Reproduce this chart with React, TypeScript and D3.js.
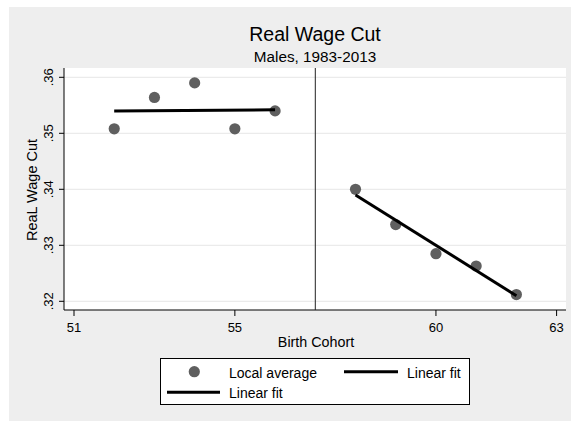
import React from 'react';
import * as d3 from 'd3';

// local averages by birth cohort
const cohortLeft = [52, 53, 54, 55, 56];
const avgLeft = [0.3508, 0.3564, 0.359, 0.3508, 0.354];
const cohortRight = [58, 59, 60, 61, 62];
const avgRight = [0.34, 0.3337, 0.3285, 0.3263, 0.3212];

// linear fit endpoints
const fitLeftX = [52, 56];
const fitLeftY = [0.354, 0.3542];
const fitRightX = [58, 62];
const fitRightY = [0.339, 0.321];

const cutoff = 57;
const xTicks = [51, 55, 60, 63];
const yTicks = [0.32, 0.33, 0.34, 0.35, 0.36];

const W = 571;
const H = 421;
const plot = { left: 64, right: 566, top: 68, bottom: 310 };
const font = 'Arial, "Liberation Sans", sans-serif';

const App: React.FC = () => {
  const x = d3.scaleLinear().domain([51, 63]).range([74, 556.6]);
  const y = d3.scaleLinear().domain([0.32, 0.36]).range([301.3, 77.3]);

  const line = d3
    .line<[number, number]>()
    .x((d) => x(d[0]))
    .y((d) => y(d[1]));

  const leftFit = fitLeftX.map((v, i) => [v, fitLeftY[i]] as [number, number]);
  const rightFit = fitRightX.map((v, i) => [v, fitRightY[i]] as [number, number]);

  const points = [
    ...cohortLeft.map((c, i) => [c, avgLeft[i]]),
    ...cohortRight.map((c, i) => [c, avgRight[i]]),
  ];

  const fmt = (v: number) => d3.format('.2f')(v).replace(/^0/, '');

  return (
    <svg
      width={W}
      height={H}
      style={{ position: 'absolute', left: 0, top: 0, fontFamily: font }}
    >
      <rect x={0} y={0} width={W} height={H} fill="#fff" />
      <rect x={9} y={7} width={W - 9} height={H - 7} fill="#eeeeee" />
      <rect
        x={plot.left}
        y={plot.top}
        width={plot.right - plot.left}
        height={plot.bottom - plot.top}
        fill="#fff"
      />

      {/* titles */}
      <text x={315} y={41} textAnchor="middle" fontSize={19.5} fill="#000">
        Real Wage Cut
      </text>
      <text x={315} y={62} textAnchor="middle" fontSize={15.3} fill="#000">
        Males, 1983-2013
      </text>

      {/* grid */}
      {yTicks.map((t) => (
        <line
          key={t}
          x1={plot.left}
          x2={plot.right}
          y1={y(t)}
          y2={y(t)}
          stroke="#e6e6e6"
          strokeWidth={1}
        />
      ))}

      {/* axes */}
      <line x1={plot.left} x2={plot.left} y1={plot.top} y2={plot.bottom} stroke="#000" />
      <line x1={plot.left} x2={plot.right} y1={plot.bottom} y2={plot.bottom} stroke="#000" />
      {yTicks.map((t) => (
        <g key={t}>
          <line x1={plot.left - 5} x2={plot.left} y1={y(t)} y2={y(t)} stroke="#000" />
          <text
            transform={`translate(53,${y(t)}) rotate(-90)`}
            textAnchor="middle"
            fontSize={13}
          >
            {fmt(t)}
          </text>
        </g>
      ))}
      {xTicks.map((t) => (
        <g key={t}>
          <line x1={x(t)} x2={x(t)} y1={plot.bottom} y2={plot.bottom + 6} stroke="#000" />
          <text x={x(t)} y={331.5} textAnchor="middle" fontSize={13}>
            {t}
          </text>
        </g>
      ))}
      <text x={316} y={347} textAnchor="middle" fontSize={14.3}>
        Birth Cohort
      </text>
      <text
        transform={`translate(37,190) rotate(-90)`}
        textAnchor="middle"
        fontSize={14.5}
      >
        ReaL Wage Cut
      </text>

      {/* cutoff */}
      <line
        x1={x(cutoff)}
        x2={x(cutoff)}
        y1={plot.top}
        y2={plot.bottom}
        stroke="#222"
        strokeWidth={1}
      />

      {/* markers */}
      {points.map((p, i) => (
        <circle key={i} cx={x(p[0])} cy={y(p[1])} r={5.6} fill="#5f5f5f" />
      ))}

      {/* fits */}
      <path d={line(leftFit) || ''} stroke="#000" strokeWidth={3} fill="none" />
      <path d={line(rightFit) || ''} stroke="#000" strokeWidth={3} fill="none" />

      {/* legend */}
      <rect x={160.5} y={358.5} width={309} height={46} fill="#fff" stroke="#000" />
      <circle cx={194.3} cy={371.7} r={5.6} fill="#5f5f5f" />
      <text x={229} y={377.5} fontSize={14}>
        Local average
      </text>
      <line x1={344} x2={398} y1={371.7} y2={371.7} stroke="#000" strokeWidth={3} />
      <text x={407} y={377.5} fontSize={14}>
        Linear fit
      </text>
      <line x1={167} x2={220} y1={392.3} y2={392.3} stroke="#000" strokeWidth={3} />
      <text x={229} y={397.5} fontSize={14}>
        Linear fit
      </text>
    </svg>
  );
};

export default App;
